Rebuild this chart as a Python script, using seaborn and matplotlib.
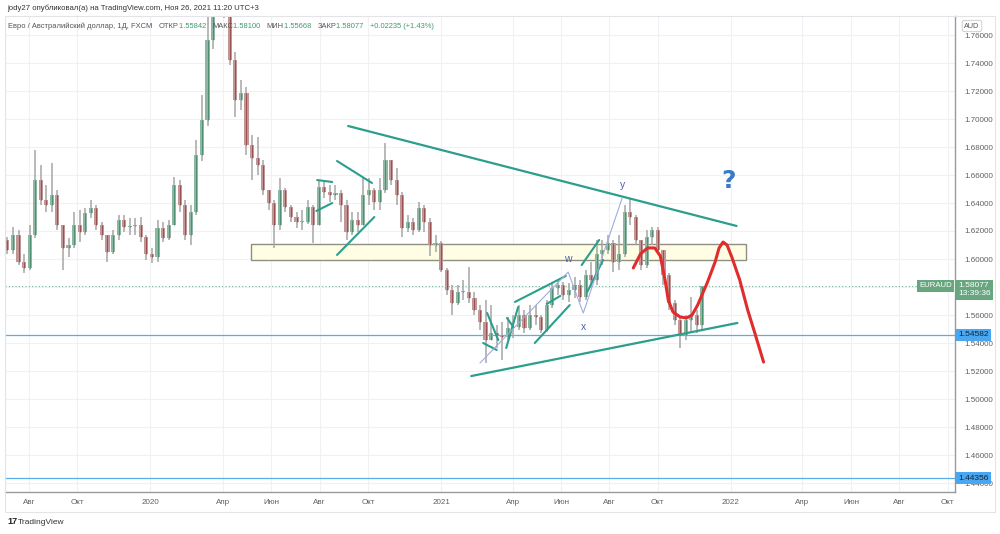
import matplotlib
matplotlib.use('Agg')
import matplotlib.pyplot as plt
import matplotlib.dates as mdates
import matplotlib.patches as mpatches
import numpy as np
import pandas as pd
import seaborn as sns

sns.set_theme(style='white')
plt.rcParams['font.family'] = ['Liberation Sans', 'DejaVu Sans']

# ---------------- data (weekly EUR/AUD) ----------------
first_week = '2019-07-05'
first_open = 1.6136
close = [1.6064, 1.6171, 1.5979, 1.5936, 1.6171, 1.6564, 1.6421, 1.6386, 1.6457, 1.6243,
         1.6079, 1.6100, 1.6243, 1.6193, 1.6329, 1.6364, 1.6243, 1.6171, 1.6050, 1.6171,
         1.6279, 1.6229, 1.6236, 1.6243, 1.6157, 1.6036, 1.6014, 1.6221, 1.6150, 1.6243,
         1.6529, 1.6386, 1.6171, 1.6336, 1.6743, 1.6993, 1.7564, 1.8000, 1.7900, 1.7800,
         1.7421, 1.7136, 1.7186, 1.6814, 1.6721, 1.6671, 1.6493, 1.6400, 1.6243, 1.6493,
         1.6371, 1.6300, 1.6264, 1.6264, 1.6371, 1.6243, 1.6514, 1.6479, 1.6457, 1.6471,
         1.6386, 1.6193, 1.6279, 1.6243, 1.6457, 1.6493, 1.6407, 1.6493, 1.6707, 1.6564,
         1.6457, 1.6221, 1.6264, 1.6207, 1.6364, 1.6264, 1.6100, 1.6114, 1.5921, 1.5779,
         1.5686, 1.5764, 1.5764, 1.5721, 1.5636, 1.5550, 1.5421, 1.5471, 1.5457, 1.5443,
         1.5507, 1.5514, 1.5600, 1.5507, 1.5600, 1.5586, 1.5493, 1.5671, 1.5793, 1.5814,
         1.5743, 1.5779, 1.5814, 1.5729, 1.5886, 1.5850, 1.6036, 1.6064, 1.6114, 1.5979,
         1.6036, 1.6336, 1.6300, 1.6136, 1.5957, 1.6157, 1.6207, 1.6064, 1.5886, 1.5686,
         1.5564, 1.5457, 1.5564, 1.5600, 1.5529, 1.58077]
high = [1.6157, 1.6229, 1.6207, 1.6036, 1.6243, 1.6779, 1.6671, 1.6529, 1.6686, 1.6493,
        1.6243, 1.6150, 1.6336, 1.6350, 1.6364, 1.6421, 1.6386, 1.6264, 1.6171, 1.6207,
        1.6314, 1.6314, 1.6293, 1.6293, 1.6300, 1.6171, 1.6079, 1.6279, 1.6264, 1.6279,
        1.6586, 1.6564, 1.6421, 1.6386, 1.6850, 1.7171, 1.7814, 1.8600, 1.8250, 1.8000,
        1.7850, 1.7480, 1.7279, 1.7230, 1.6886, 1.6871, 1.6707, 1.6493, 1.6421, 1.6579,
        1.6507, 1.6386, 1.6336, 1.6350, 1.6421, 1.6386, 1.6564, 1.6550, 1.6529, 1.6529,
        1.6490, 1.6420, 1.6336, 1.6336, 1.6579, 1.6579, 1.6507, 1.6579, 1.6829, 1.6707,
        1.6650, 1.6480, 1.6314, 1.6293, 1.6407, 1.6386, 1.6290, 1.6171, 1.6130, 1.5936,
        1.5814, 1.5814, 1.5850, 1.5943, 1.5764, 1.5671, 1.5707, 1.5671, 1.5529, 1.5550,
        1.5586, 1.5600, 1.5671, 1.5636, 1.5671, 1.5671, 1.5600, 1.5707, 1.5829, 1.5850,
        1.5836, 1.5829, 1.5871, 1.5850, 1.5921, 1.5979, 1.6136, 1.6136, 1.6171, 1.6136,
        1.6171, 1.6386, 1.6436, 1.6314, 1.6136, 1.6207, 1.6229, 1.6230, 1.6064, 1.5900,
        1.5707, 1.5579, 1.5600, 1.5729, 1.5636, 1.58100]
low = [1.6036, 1.6036, 1.5957, 1.5900, 1.5921, 1.6150, 1.6386, 1.6336, 1.6336, 1.6207,
       1.5921, 1.6014, 1.6079, 1.6121, 1.6171, 1.6293, 1.6207, 1.6136, 1.5979, 1.6036,
       1.6136, 1.6193, 1.6171, 1.6171, 1.6121, 1.5993, 1.5971, 1.5979, 1.6121, 1.6136,
       1.6243, 1.6336, 1.6136, 1.6100, 1.6314, 1.6700, 1.6950, 1.7500, 1.7750, 1.7720,
       1.7386, 1.7014, 1.7064, 1.6743, 1.6564, 1.6600, 1.6457, 1.6350, 1.6079, 1.6207,
       1.6336, 1.6264, 1.6221, 1.6207, 1.6250, 1.6114, 1.6243, 1.6436, 1.6407, 1.6421,
       1.6264, 1.6136, 1.6171, 1.6193, 1.6243, 1.6386, 1.6350, 1.6350, 1.6470, 1.6529,
       1.6386, 1.6157, 1.6193, 1.6171, 1.6190, 1.6193, 1.6021, 1.6050, 1.5907, 1.5743,
       1.5600, 1.5671, 1.5707, 1.5686, 1.5600, 1.5493, 1.5257, 1.5421, 1.5364, 1.5279,
       1.5421, 1.5436, 1.5493, 1.5471, 1.5490, 1.5529, 1.5471, 1.5480, 1.5650, 1.5743,
       1.5707, 1.5693, 1.5721, 1.5693, 1.5707, 1.5793, 1.5814, 1.5957, 1.6036, 1.5907,
       1.5921, 1.6014, 1.6243, 1.6100, 1.5921, 1.5936, 1.6100, 1.6036, 1.5814, 1.5636,
       1.5529, 1.5364, 1.5421, 1.5471, 1.5471, 1.5500]

price_ticks = [1.44, 1.46, 1.48, 1.50, 1.52, 1.54, 1.56, 1.58, 1.60, 1.62, 1.64,
               1.66, 1.68, 1.70, 1.72, 1.74, 1.76]
xtick_dates = ['2019-08-01', '2019-10-01', '2020-01-01', '2020-04-01', '2020-06-01',
               '2020-08-01', '2020-10-01', '2021-01-01', '2021-04-01', '2021-06-01',
               '2021-08-01', '2021-10-01', '2022-01-01', '2022-04-01', '2022-06-01',
               '2022-08-01', '2022-10-01']
xtick_labels = ['Авг', 'Окт', '2020', 'Апр', 'Июн', 'Авг', 'Окт', '2021', 'Апр', 'Июн',
                'Авг', 'Окт', '2022', 'Апр', 'Июн', 'Авг', 'Окт']

last_price = 1.58077
last_time = '13:39:36'
level_1 = 1.54582
level_2 = 1.44356

# drawings
zone_dates = ['2020-05-07', '2022-01-20']
zone_prices = [1.5993, 1.6107]
big_lines = [
    (['2020-09-06', '2022-01-08'], [1.6950, 1.6236]),
    (['2021-02-08', '2022-01-09'], [1.5164, 1.5543]),
]
small_lines = [
    (['2020-07-29', '2020-08-17'], [1.6564, 1.6550]),
    (['2020-07-28', '2020-08-17'], [1.6343, 1.6400]),
    (['2020-08-23', '2020-10-06'], [1.6700, 1.6543]),
    (['2020-08-23', '2020-10-09'], [1.6029, 1.6300]),
    (['2021-02-28', '2021-03-14'], [1.5614, 1.5421]),
    (['2021-02-23', '2021-03-12'], [1.5400, 1.5350]),
    (['2021-03-24', '2021-04-08'], [1.5364, 1.5657]),
    (['2021-03-25', '2021-04-02'], [1.5579, 1.5514]),
    (['2021-04-04', '2021-06-07'], [1.5693, 1.5879]),
    (['2021-04-29', '2021-06-12'], [1.5400, 1.5671]),
    (['2021-05-14', '2021-05-31'], [1.5679, 1.5736]),
    (['2021-06-27', '2021-07-19'], [1.5957, 1.6136]),
    (['2021-07-04', '2021-07-24'], [1.5764, 1.5993]),
]
wave_dates = ['2021-02-19', '2021-06-10', '2021-06-29', '2021-08-17']
wave_prices = [1.5257, 1.5907, 1.5614, 1.6436]
wave_labels = ['w', 'x', 'y']
wave_label_dates = ['2021-06-10', '2021-06-29', '2021-08-17']
wave_label_prices = [1.6000, 1.5514, 1.6529]
red_dates = ['2021-08-31', '2021-09-09', '2021-09-18', '2021-09-27', '2021-10-04',
             '2021-10-10', '2021-10-14', '2021-10-20', '2021-10-29', '2021-11-06',
             '2021-11-13', '2021-11-20', '2021-12-02', '2021-12-12', '2021-12-17',
             '2021-12-22', '2021-12-27', '2022-01-02', '2022-01-12', '2022-01-22',
             '2022-01-31', '2022-02-11']
red_prices = [1.5936, 1.6036, 1.6079, 1.6079, 1.6021, 1.5850, 1.5707, 1.5621, 1.5586,
              1.5579, 1.5600, 1.5671, 1.5829, 1.5979, 1.6079, 1.6121, 1.6100, 1.6014,
              1.5850, 1.5636, 1.5471, 1.5264]
question_date = '2021-12-29'
question_price = 1.6557

# ---------------- figure ----------------
W, H = 1000, 534
fig = plt.figure(figsize=(W / 100, H / 100), dpi=100)
fig.patch.set_facecolor('white')
ax = fig.add_axes([5 / W, 1 - 492 / H, 950 / W, (492 - 16) / H])
ax.set_facecolor('white')

dates = pd.date_range(first_week, periods=len(close), freq='7D')
opens = [first_open] + close[:-1]
df = pd.DataFrame({'date': dates, 'open': opens, 'close': close, 'high': high, 'low': low})
df['up'] = df['close'] >= df['open']
df['bottom'] = df[['open', 'close']].min(axis=1)
df['height'] = (df['close'] - df['open']).abs().clip(lower=0.0008)

up_col, dn_col, wick_col = '#8db7a3', '#c09696', '#a6a6a6'
ax.vlines(df['date'], df['low'], df['high'], colors=wick_col, lw=1.1, zorder=3)
ax.bar(df['date'], df['height'], bottom=df['bottom'], width=5.2,
       color=np.where(df['up'], up_col, dn_col), edgecolor='none', zorder=4)
ax.vlines(df['date'], df['bottom'], df['bottom'] + df['height'],
          colors=np.where(df['up'], '#4e8f72', '#9a4f4f'), lw=0.7, zorder=4.5)

# zone rectangle
zd = mdates.date2num(pd.to_datetime(zone_dates))
ax.add_patch(mpatches.Rectangle((zd[0], zone_prices[0]), zd[1] - zd[0],
                                zone_prices[1] - zone_prices[0],
                                facecolor='#fffde3', edgecolor='#8f8f80', lw=1.0, zorder=2))

# horizontal levels
ax.axhline(level_1, color='#5aaee8', lw=0.9, zorder=2)
ax.axhline(level_2, color='#5aaee8', lw=0.9, zorder=2)
ax.axhline(last_price, color='#6fb39a', lw=0.8, ls=(0, (1, 2)), zorder=2)

teal = '#2b9e8c'
for d, p in big_lines:
    sns.lineplot(x=pd.to_datetime(d), y=p, ax=ax, color=teal, lw=1.6, zorder=5)
for d, p in small_lines:
    sns.lineplot(x=pd.to_datetime(d), y=p, ax=ax, color=teal, lw=1.5, zorder=5)

sns.lineplot(x=pd.to_datetime(wave_dates), y=wave_prices, ax=ax, sort=False,
             color='#a3acdc', lw=0.8, zorder=5)
for lab, d, p in zip(wave_labels, wave_label_dates, wave_label_prices):
    ax.text(pd.Timestamp(d), p, lab, color='#4d5fae', fontsize=7.5, ha='center',
            va='center', zorder=6)

sns.lineplot(x=pd.to_datetime(red_dates), y=red_prices, ax=ax, sort=False,
             color='#e02c2c', lw=2.2, zorder=6)
ax.lines[-1].set_solid_capstyle('round')
ax.lines[-1].set_solid_joinstyle('round')

ax.text(pd.Timestamp(question_date), question_price, '?', color='#3a7bc8',
        fontsize=18, fontweight='bold', ha='center', va='center', zorder=6,
        family='DejaVu Sans')

# axes styling
ax.set_xlim(pd.Timestamp('2019-07-02'), pd.Timestamp('2022-10-10'))
ax.set_ylim(1.785 - 492 / 1400, 1.785 - 16 / 1400)
ax.set_xticks(pd.to_datetime(xtick_dates))
ax.set_xticklabels(xtick_labels)
ax.set_yticks(price_ticks)
# 1.58000 lies under the last-price tag, as in the reference
ax.set_yticklabels(['' if abs(v - 1.58) < 1e-9 else f'{v:.5f}' for v in price_ticks])
ax.yaxis.tick_right()
ax.tick_params(axis='y', length=0, pad=7, labelsize=5.8, labelcolor='#606060')
ax.tick_params(axis='x', length=0, pad=5, labelsize=5.8, labelcolor='#606060')
ax.grid(True, color='#f0f1f4', lw=0.8, zorder=0)
ax.set_axisbelow(True)
ax.set_xlabel('')
ax.set_ylabel('')
for s in ['top', 'left']:
    ax.spines[s].set_visible(False)
for s in ['right', 'bottom']:
    ax.spines[s].set_color('#9a9a9a')
    ax.spines[s].set_linewidth(1.0)

# price tags
ytr = ax.get_yaxis_transform()
for lv in [level_1, level_2]:
    ax.text(1.003, lv, f'{lv:.5f}', transform=ytr, fontsize=6.0, color='#10263a',
            ha='left', va='center', clip_on=False, zorder=10,
            bbox=dict(boxstyle='square,pad=0.32', fc='#4aa6ef', ec='none'))
ax.text(1.003, last_price - 0.0027, f'{last_price:.5f}\n{last_time}', transform=ytr,
        fontsize=6.0, color='white', ha='left', va='center', clip_on=False, zorder=10,
        linespacing=1.15, bbox=dict(boxstyle='square,pad=0.32', fc='#68a680', ec='none'))
ax.text(0.997, last_price, 'EURAUD', transform=ytr, fontsize=5.6, color='white',
        ha='right', va='center', zorder=10,
        bbox=dict(boxstyle='square,pad=0.3', fc='#68a680', ec='none'))

# frame and header
fig.add_artist(mpatches.Rectangle((5 / W, 1 - 512 / H), 990 / W, 496 / H,
                                  transform=fig.transFigure, fill=False,
                                  ec='#e4e4e8', lw=0.8))
fig.text(972 / W, 1 - 26 / H, 'AUD', fontsize=5.2, color='#555', ha='center',
         va='center', bbox=dict(boxstyle='round,pad=0.3', fc='white', ec='#c8c8c8', lw=0.6))

fig.text(7 / W, 1 - 8 / H, 'jody27 опубликовал(а) на TradingView.com, Ноя 26, 2021 11:20 UTC+3',
         fontsize=5.6, color='#333', ha='left', va='center')

fig.canvas.draw()
renderer = fig.canvas.get_renderer()
inv = fig.transFigure.inverted()


def chain(x_px, parts, y_px=26, size=5.4):
    x = x_px / W
    for txt, col in parts:
        t = fig.text(x, 1 - y_px / H, txt, fontsize=size, color=col, ha='left', va='center')
        bb = t.get_window_extent(renderer=renderer)
        x = inv.transform((bb.x1, bb.y0))[0]


grey, green = '#555555', '#3f9a6e'
chain(8, [('Евро / Австралийский доллар, 1Д, FXCM   ', grey),
          ('ОТКР', grey), ('1.55842   ', green),
          ('МАКС', grey), ('1.58100   ', green),
          ('МИН', grey), ('1.55668   ', green),
          ('ЗАКР', grey), ('1.58077   ', green),
          ('+0.02235 (+1.43%)', green)])

fig.text(7 / W, 1 - 522 / H, '17', fontsize=6.5, fontweight='bold', color='#222',
         ha='left', va='center')
fig.text(18 / W, 1 - 522 / H, 'TradingView', fontsize=6.0, color='#333',
         ha='left', va='center')

fig.savefig('out.png', dpi=100, facecolor='white')
